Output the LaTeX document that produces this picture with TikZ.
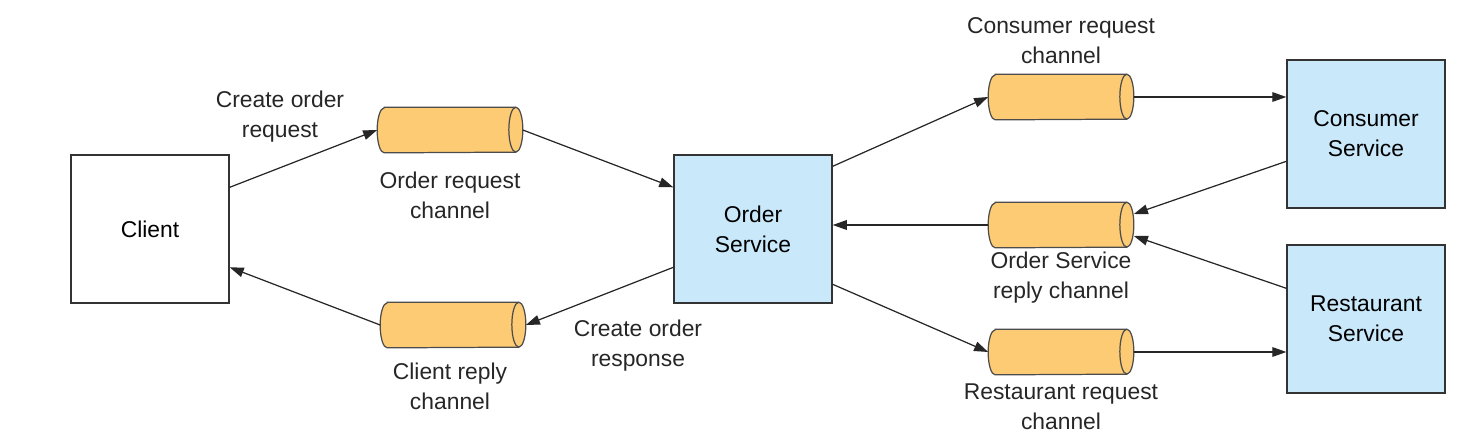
\documentclass[tikz,border=0pt]{standalone}
\usepackage{fontspec}
\setmainfont{Liberation Sans}
\usetikzlibrary{arrows.meta,calc}
\definecolor{chanfill}{HTML}{FDCB74}
\definecolor{svcfill}{HTML}{C9E8FA}
\newcommand\drawChannel[1]{
    \draw[fill = chanfill, draw = black!70, line width = 0.7pt]
        ($(#1.north west)+(7,0)$) -- ($(#1.north east)+(-7,0)$)
        arc[start angle = 90, end angle = -90, x radius = 0.14cm, y radius = 0.45cm]
        -- ($(#1.south west)+(7,0)$)
        arc[start angle = 270, end angle = 90, x radius = 0.14cm, y radius = 0.45cm]
        -- cycle;
    \draw[draw = black!70, line width = 0.7pt] ($(#1.north east)+(-7,0)$)
        arc[start angle = 90, end angle = 270, x radius = 0.14cm, y radius = 0.45cm];
}
\tikzset{
    svcbox/.style = {draw = black!80, fill = svcfill, line width = 0.8pt,
        minimum width = 3.16cm, minimum height = 2.96cm, align = center, inner sep = 0pt},
    channel/.style = {minimum width = 2.9cm, minimum height = 0.9cm, inner sep = 0pt},
    lbl/.style = {align = center, text = black!85},
    msg/.style = {-{Triangle[length=8pt,width=5.5pt]}, line width = 0.7pt, black!85}
}
\begin{document}
\begin{tikzpicture}[x = 0.02cm, y = -0.02cm, font = \fontsize{13}{17}\selectfont]
        \useasboundingbox (0,0) rectangle (1481,446);
        % boxes
        \node[svcbox, fill = white] (client) at (150,229) {Client};
        \node[svcbox] (order) at (753,229) {Order\\Service};
        \node[svcbox] (consumer) at (1366,134) {Consumer\\Service};
        \node[svcbox] (restaurant) at (1366,319) {Restaurant\\Service};

        % channels
        \node[channel] (ordreq) at (450,130) {};
        \node[channel] (clirep) at (453,325) {};
        \node[channel] (conreq) at (1061,97) {};
        \node[channel] (ordrep) at (1061,225) {};
        \node[channel] (resreq) at (1061,352) {};
        \foreach \ch in {ordreq,clirep,conreq,ordrep,resreq}
        {
            \drawChannel{\ch}
        }

        % labels
        \node[lbl] (ordreqlbl) at (450,195) {Order request\\channel};
        \node[lbl] (clireplbl) at (450,386) {Client reply\\channel};
        \node[lbl] (conreqlbl) at (1061,41) {Consumer request\\channel};
        \node[lbl] (ordreplbl) at (1061,278) {Order Service\\reply channel};
        \node[lbl] (resreqlbl) at (1061,407) {Restaurant request\\channel};
        \node[lbl] (createreq) at (280,117) {Create order\\request};
        \node[lbl] (createresp) at (638,346) {Create order\\response};

        % messages
        \draw[msg] ($(client.north east)+(0,33)$) -- (ordreq.west);
        \draw[msg] (ordreq.east) -- ($(order.north west)+(0,33)$);
        \draw[msg] ($(order.north west)+(0,113)$) -- (clirep.east);
        \draw[msg] (clirep.west) -- ($(client.north east)+(0,113)$);
        \draw[msg] ($(order.north east)+(0,12)$) -- (conreq.west);
        \draw[msg] (conreq.east) -- (conreq.east -| consumer.west);
        \draw[msg] ($(consumer.north west)+(0,102)$) -- ($(ordrep.east)+(0,-11)$);
        \draw[msg] ($(restaurant.north west)+(0,44)$) -- ($(ordrep.east)+(0,11)$);
        \draw[msg] (ordrep.west) -- (ordrep.west -| order.east);
        \draw[msg] ($(order.north east)+(0,130)$) -- (resreq.west);
        \draw[msg] (resreq.east) -- (resreq.east -| restaurant.west);
    \end{tikzpicture}
\end{document}
